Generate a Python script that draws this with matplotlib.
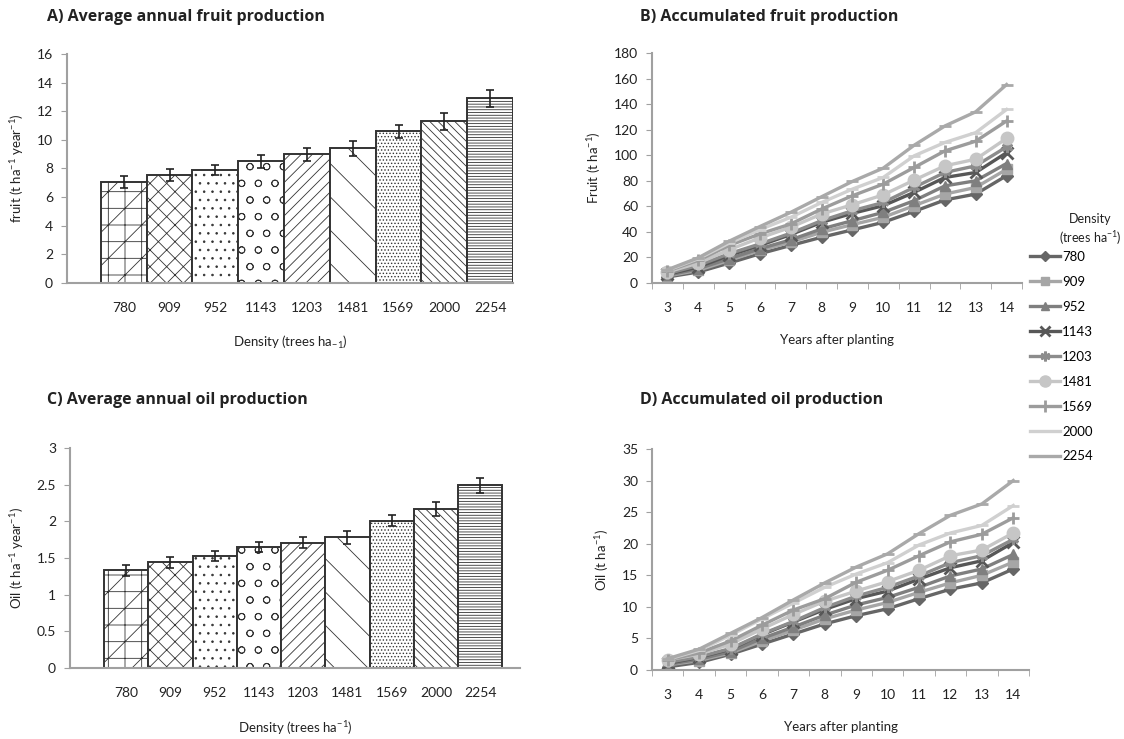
import numpy as np
import matplotlib
matplotlib.use("Agg")
import matplotlib.pyplot as plt
from matplotlib.lines import Line2D

plt.rcParams['font.family'] = ['Lato', 'DejaVu Sans']
plt.rcParams['mathtext.fontset'] = 'custom'
plt.rcParams['mathtext.rm'] = 'Lato'
plt.rcParams['mathtext.it'] = 'Lato:italic'
plt.rcParams['mathtext.bf'] = 'Lato:bold'
plt.rcParams['hatch.linewidth'] = 0.6

# bar panels: densities, means and error bars
densities = ['780', '909', '952', '1143', '1203', '1481', '1569', '2000', '2254']
fruit_mean = [7.05, 7.55, 7.9, 8.5, 9.0, 9.4, 10.6, 11.3, 12.9]
fruit_err = [0.4, 0.4, 0.35, 0.45, 0.45, 0.55, 0.45, 0.6, 0.6]
oil_mean = [1.33, 1.44, 1.53, 1.65, 1.71, 1.78, 2.01, 2.17, 2.49]
oil_err = [0.07, 0.08, 0.07, 0.07, 0.08, 0.09, 0.08, 0.1, 0.1]

# line panels: accumulated production per year after planting
years = [3, 4, 5, 6, 7, 8, 9, 10, 11, 12, 13, 14]
fruit_780 = [4.7, 8.6, 15.6, 22.9, 29.4, 35.8, 41.6, 47.5, 56.0, 65.0, 69.6, 84.0]
fruit_909 = [5.5, 9.9, 17.7, 25.5, 32.0, 39.7, 45.7, 51.4, 60.5, 69.6, 74.8, 89.0]
fruit_952 = [6.0, 11.2, 19.0, 26.8, 33.8, 42.3, 48.8, 55.3, 64.4, 76.0, 80.0, 93.5]
fruit_1143 = [6.8, 12.5, 21.6, 29.4, 37.9, 47.5, 54.5, 60.5, 70.9, 82.6, 86.5, 102.0]
fruit_1203 = [7.3, 13.8, 22.9, 30.6, 39.0, 48.8, 56.6, 63.0, 74.8, 86.5, 91.7, 106.5]
fruit_1481 = [8.6, 15.6, 26.0, 35.3, 43.6, 54.0, 61.3, 69.0, 80.5, 91.7, 96.9, 113.2]
fruit_1569 = [9.4, 17.7, 29.4, 38.4, 46.2, 57.9, 68.3, 77.4, 90.4, 103.4, 111.0, 126.8]
fruit_2000 = [9.9, 19.0, 31.2, 41.8, 51.4, 63.0, 73.5, 82.6, 99.5, 110.0, 117.7, 135.8]
fruit_2254 = [10.4, 19.7, 32.7, 44.2, 55.3, 67.5, 79.5, 89.9, 107.8, 122.9, 134.0, 155.3]

oil_780 = [0.5, 1.2, 2.5, 4.1, 5.7, 7.3, 8.6, 9.7, 11.3, 12.8, 13.8, 16.0]
oil_909 = [0.8, 1.5, 2.7, 4.6, 6.3, 8.1, 9.5, 10.7, 12.3, 13.8, 15.0, 17.1]
oil_952 = [0.9, 1.7, 2.9, 5.0, 6.8, 8.7, 10.3, 11.5, 13.1, 14.9, 16.0, 18.3]
oil_1143 = [1.05, 2.0, 3.3, 5.6, 7.6, 9.6, 11.3, 12.5, 14.4, 16.2, 17.3, 20.2]
oil_1203 = [1.2, 2.1, 3.4, 5.7, 7.7, 9.9, 11.7, 13.1, 14.9, 17.0, 18.1, 20.7]
oil_1481 = [1.6, 2.5, 4.1, 6.5, 8.8, 10.9, 12.5, 14.0, 15.8, 18.1, 19.0, 21.7]
oil_1569 = [1.6, 2.7, 4.6, 7.1, 9.5, 11.3, 13.9, 15.8, 18.1, 20.3, 21.5, 24.1]
oil_2000 = [1.7, 3.1, 5.5, 8.1, 10.6, 13.1, 15.2, 17.0, 19.8, 21.7, 22.9, 26.05]
oil_2254 = [1.8, 3.3, 5.8, 8.3, 11.1, 13.8, 16.3, 18.4, 21.6, 24.5, 26.3, 30.0]

fruit_series = [fruit_780, fruit_909, fruit_952, fruit_1143, fruit_1203,
                fruit_1481, fruit_1569, fruit_2000, fruit_2254]
oil_series = [oil_780, oil_909, oil_952, oil_1143, oil_1203,
              oil_1481, oil_1569, oil_2000, oil_2254]

# styles
hatches = ['/|-', 'xx', '..', 'o', '///', '\\', '.....', '\\\\\\\\', '------']
line_colors = ['#666666', '#a6a6a6', '#7f7f7f', '#575757', '#8c8c8c',
               '#c6c6c6', '#9c9c9c', '#d0d0d0', '#a9a9a9']
markers = ['D', 's', '^', 'x', (6, 2, 0), 'o', '+', '_', '_']
msizes = [6, 7, 7, 8, 8, 9, 9, 8, 8]
thin_markers = ['x', '+', '_', (6, 2, 0)]

W, H = 1124, 739
fig = plt.figure(figsize=(W / 100, H / 100), dpi=100)


def ax_at(x0, y0, x1, y1):
    return fig.add_axes([x0 / W, 1 - y1 / H, (x1 - x0) / W, (y1 - y0) / H])


def style_axes(ax):
    for s in ['top', 'right']:
        ax.spines[s].set_visible(False)
    for s in ['left', 'bottom']:
        ax.spines[s].set_color('#a0a0a0')
        ax.spines[s].set_linewidth(1.5)
    ax.tick_params(axis='y', length=4, color='#a0a0a0', labelsize=10,
                   labelcolor='#222222', pad=6)


def bar_panel(ax, means, errs, ymax, ystep, xlim, ylabel, xlabel, yfmt):
    x = np.arange(len(densities))
    for i in range(len(densities)):
        ax.bar(x[i], means[i], width=1.0, color='white', edgecolor='#333333',
               linewidth=1.4, hatch=hatches[i], zorder=2)
    ax.errorbar(x, means, yerr=errs, fmt='none', ecolor='#222222',
                elinewidth=1.2, capsize=3, capthick=1.2, zorder=3)
    ax.set_xlim(*xlim)
    ax.set_ylim(0, ymax)
    ticks = np.arange(0, ymax + ystep / 2, ystep)
    ax.set_yticks(ticks)
    ax.set_yticklabels([yfmt(v) for v in ticks])
    ax.set_xticks(x)
    ax.set_xticklabels(densities)
    style_axes(ax)
    ax.tick_params(axis='x', length=0, pad=14, labelsize=10, labelcolor='#222222')
    ax.set_ylabel(ylabel, fontsize=9.5, color='#222222', labelpad=8)
    ax.set_xlabel(xlabel, fontsize=9.5, color='#222222', labelpad=14)


def line_panel(ax, series, ymax, ystep, ylabel, xlim):
    for i, ys in enumerate(series):
        ax.plot(years, ys, color=line_colors[i], linewidth=2.4, marker=markers[i],
                markersize=msizes[i],
                markeredgewidth=2 if markers[i] in thin_markers else 1,
                markeredgecolor=line_colors[i], markerfacecolor=line_colors[i],
                zorder=2 + i * 0.01)
    ax.set_xlim(*xlim)
    ax.set_ylim(0, ymax)
    ax.set_yticks(np.arange(0, ymax + 1, ystep))
    ax.set_xticks(years)
    ax.set_xticks(np.arange(2.5, 15, 1), minor=True)
    style_axes(ax)
    ax.tick_params(axis='x', which='major', length=0, pad=14, labelsize=10,
                   labelcolor='#222222')
    ax.tick_params(axis='x', which='minor', length=4, color='#a0a0a0')
    ax.set_ylabel(ylabel, fontsize=9.5, color='#222222', labelpad=8)
    ax.set_xlabel('Years after planting', fontsize=9.5, color='#222222', labelpad=14)


axA = ax_at(67, 54, 513, 283)
bar_panel(axA, fruit_mean, fruit_err, 16, 2, (-1.24, 8.5),
          'fruit (t ha$^{-1}$ year$^{-1}$)', 'Density (trees ha$_{\\mathregular{-1}}$)',
          lambda v: '%d' % v)

axC = ax_at(70, 448, 520, 668)
bar_panel(axC, oil_mean, oil_err, 3, 0.5, (-1.27, 8.9),
          'Oil (t ha$^{-1}$ year$^{-1}$)', 'Density (trees ha$^{-1}$)',
          lambda v: ('%g' % v))

axB = ax_at(652, 53, 1022, 283)
line_panel(axB, fruit_series, 180, 20, 'Fruit (t ha$^{-1}$)', (2.5, 14.5))

axD = ax_at(652, 449, 1029, 670)
line_panel(axD, oil_series, 35, 5, 'Oil (t ha$^{-1}$)', (2.5, 14.5))

title_kw = dict(fontsize=11.5, fontweight='bold', family=['Open Sans', 'DejaVu Sans'],
                color='#222222', va='center', ha='left')
fig.text(47 / W, 1 - 17 / H, 'A) Average annual fruit production', **title_kw)
fig.text(640 / W, 1 - 17 / H, 'B) Accumulated fruit production', **title_kw)
fig.text(47 / W, 1 - 400 / H, 'C) Average annual oil production', **title_kw)
fig.text(640 / W, 1 - 400 / H, 'D) Accumulated oil production', **title_kw)

# legend
fig.text(1090 / W, 1 - 230 / H, 'Density\n(trees ha$^{-1}$)', ha='center', va='center',
         fontsize=9, color='#222222', linespacing=1.3)
handles = [Line2D([], [], color=line_colors[i], linewidth=2.4, marker=markers[i],
                  markersize=msizes[i] - 1,
                  markeredgewidth=2 if markers[i] in thin_markers else 1,
                  markeredgecolor=line_colors[i], markerfacecolor=line_colors[i])
           for i in range(len(densities))]
fig.legend(handles, densities, loc='upper left', bbox_to_anchor=(1030 / W, 1 - 251 / H),
           frameon=False, fontsize=9.5, labelspacing=0.98, handlelength=2.3,
           handletextpad=0.15, borderaxespad=0, borderpad=0)

fig.savefig('out.png', dpi=100)
